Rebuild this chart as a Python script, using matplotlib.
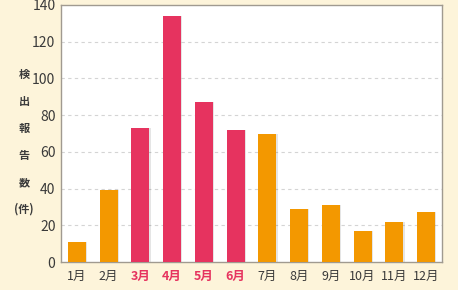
import matplotlib

matplotlib.use("Agg")
import matplotlib.pyplot as plt
import numpy as np

plt.rcParams["font.family"] = ["Noto Sans CJK JP", "DejaVu Sans"]

months = ["1月", "2月", "3月", "4月", "5月", "6月",
          "7月", "8月", "9月", "10月", "11月", "12月"]
counts = [11, 39, 73, 134, 87, 72, 70, 29, 31, 17, 22, 27]
peak = [False, False, True, True, True, True,
        False, False, False, False, False, False]

ORANGE = "#F39800"
PINK = "#E6335F"
CREAM = "#FDF4DA"
TEXT = "#3a3a3a"

fig = plt.figure(figsize=(4.58, 2.90), dpi=100)
fig.patch.set_facecolor(CREAM)
ax = fig.add_axes([61 / 458, 1 - 262 / 290, 381 / 458, 257 / 290])
ax.set_facecolor("white")

x = np.arange(len(months))
colors = [PINK if p else ORANGE for p in peak]
# soft shadow behind bars
ax.bar(x + 0.04, counts, width=0.57, color="#000000", alpha=0.10, zorder=2)
ax.bar(x, counts, width=0.57, color=colors, zorder=3)

ax.set_xlim(-0.5, 11.5)
ax.set_ylim(0, 140)
ax.set_yticks(np.arange(0, 141, 20))
ax.set_yticklabels([str(v) for v in range(0, 141, 20)], fontsize=10, color=TEXT)
ax.set_xticks(x)
ax.set_xticklabels(months, fontsize=9, color=TEXT)
for lbl, p in zip(ax.get_xticklabels(), peak):
    if p:
        lbl.set_color(PINK)
        lbl.set_fontweight("bold")
ax.tick_params(length=0, pad=4)
ax.tick_params(axis="x", pad=6)

for v in range(20, 140, 20):
    ax.axhline(v, color="#d4d4d4", linestyle=(0, (3, 3)), linewidth=0.8, zorder=1)

for s in ax.spines.values():
    s.set_color("#a09a90")
    s.set_linewidth(1.0)

fig.text(24 / 458, 1 - 142 / 290, "検\n出\n報\n告\n数\n(件)", ha="center", va="center",
         fontsize=8, fontweight="bold", color=TEXT, linespacing=2.4)

fig.savefig("out.png", dpi=100, facecolor=CREAM)
